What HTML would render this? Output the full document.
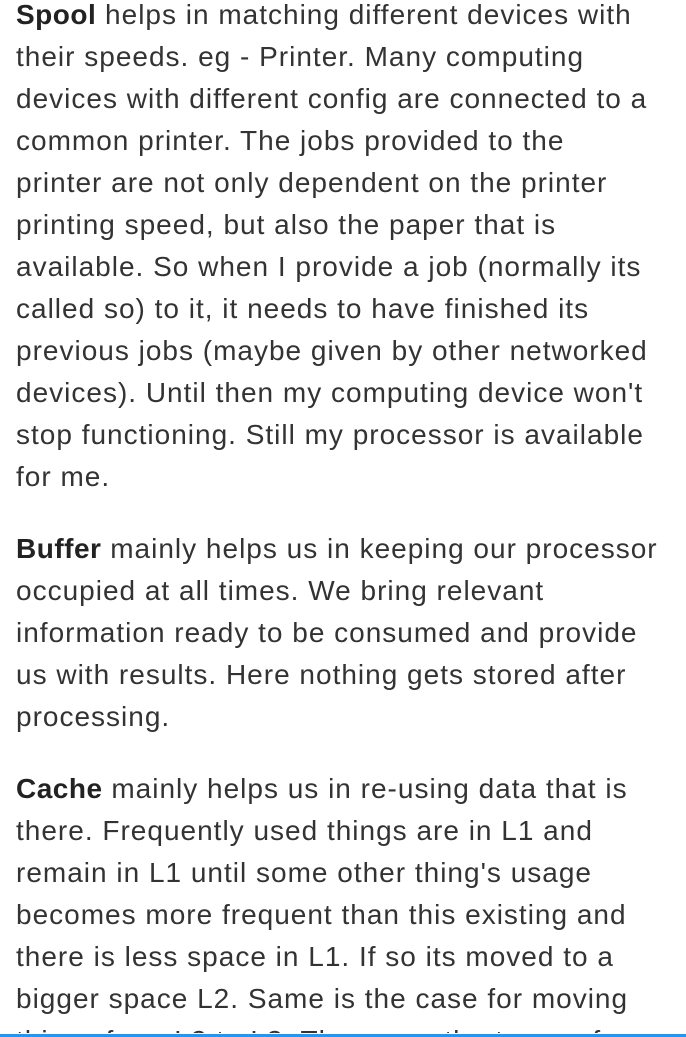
<!DOCTYPE html>
<html><head><meta charset="utf-8">
<style>
html,body{margin:0;padding:0;background:#fff;}
body{width:686px;height:1037px;position:relative;overflow:hidden;font-family:"Liberation Sans",Arial,sans-serif;}
#content{position:absolute;left:0;top:0;width:686px;height:1033px;overflow:hidden;}
.l{position:absolute;left:16px;white-space:nowrap;font-size:28px;letter-spacing:1px;line-height:42px;height:42px;color:#333;}
b{color:#222;letter-spacing:0.5px;}
#bar{position:absolute;left:0;top:1034px;width:686px;height:3px;background:#2196f3;}
</style></head>
<body>
<div id="content">
<div class="l" style="top:-6px"><b>Spool</b> helps in matching different devices with</div>
<div class="l" style="top:36px">their speeds. eg - Printer. Many computing</div>
<div class="l" style="top:78px">devices with different config are connected to a</div>
<div class="l" style="top:120px">common printer. The jobs provided to the</div>
<div class="l" style="top:162px">printer are not only dependent on the printer</div>
<div class="l" style="top:204px">printing speed, but also the paper that is</div>
<div class="l" style="top:246px">available. So when I provide a job (normally its</div>
<div class="l" style="top:288px">called so) to it, it needs to have finished its</div>
<div class="l" style="top:330px">previous jobs (maybe given by other networked</div>
<div class="l" style="top:372px">devices). Until then my computing device won't</div>
<div class="l" style="top:414px">stop functioning. Still my processor is available</div>
<div class="l" style="top:456px">for me.</div>

<div class="l" style="top:528px"><b>Buffer</b> mainly helps us in keeping our processor</div>
<div class="l" style="top:570px">occupied at all times. We bring relevant</div>
<div class="l" style="top:612px">information ready to be consumed and provide</div>
<div class="l" style="top:654px">us with results. Here nothing gets stored after</div>
<div class="l" style="top:696px">processing.</div>

<div class="l" style="top:768px"><b>Cache</b> mainly helps us in re-using data that is</div>
<div class="l" style="top:810px">there. Frequently used things are in L1 and</div>
<div class="l" style="top:852px">remain in L1 until some other thing's usage</div>
<div class="l" style="top:894px">becomes more frequent than this existing and</div>
<div class="l" style="top:936px">there is less space in L1. If so its moved to a</div>
<div class="l" style="top:978px">bigger space L2. Same is the case for moving</div>
<div class="l" style="top:1020px">things from L2 to L3. These are the types of</div>
</div>
<div id="bar"></div>
</body></html>
